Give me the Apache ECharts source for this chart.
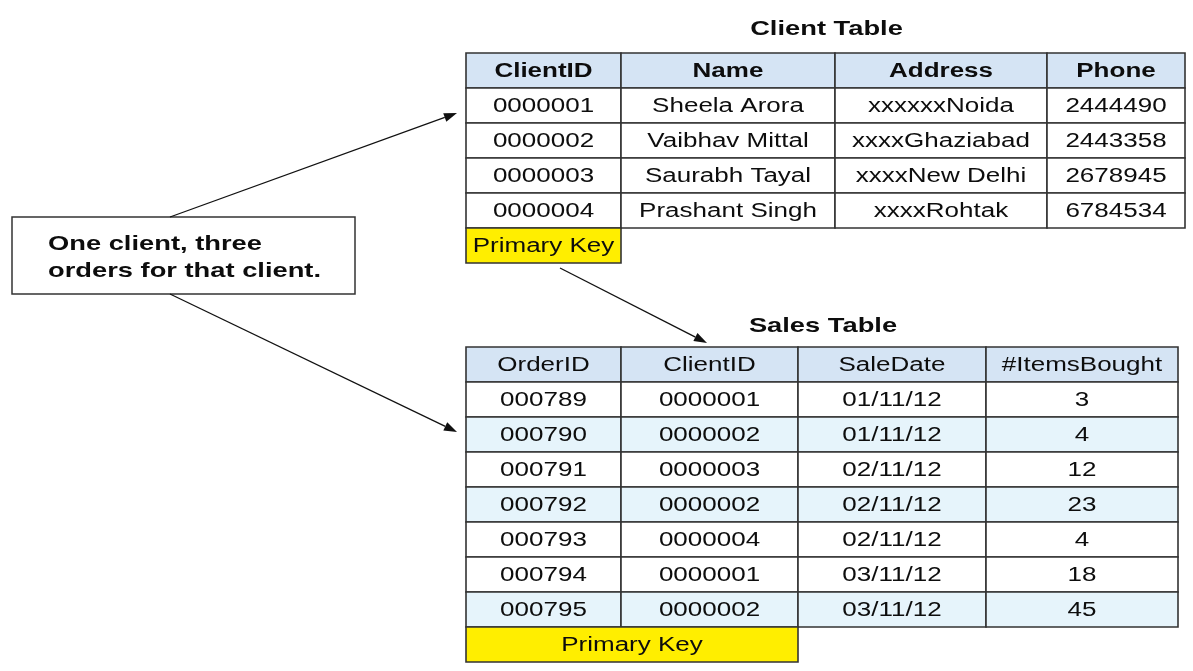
<!DOCTYPE html>
<html><head><meta charset="utf-8">
<script src="https://cdn.jsdelivr.net/npm/echarts@6/dist/echarts.min.js"></script>
<style>html,body{margin:0;padding:0;background:#fff}#c{width:1193px;height:671px}</style>
</head><body><div id="c"></div>
<script>
// ---------- data ----------
const clientTitle = 'Client Table';
const clientColumns = ['ClientID', 'Name', 'Address', 'Phone'];
const clientIds = ['0000001', '0000002', '0000003', '0000004'];
const clientNames = ['Sheela Arora', 'Vaibhav Mittal', 'Saurabh Tayal', 'Prashant Singh'];
const clientAddresses = ['xxxxxxNoida', 'xxxxGhaziabad', 'xxxxNew Delhi', 'xxxxRohtak'];
const clientPhones = ['2444490', '2443358', '2678945', '6784534'];

const salesTitle = 'Sales Table';
const salesColumns = ['OrderID', 'ClientID', 'SaleDate', '#ItemsBought'];
const orderIds = ['000789', '000790', '000791', '000792', '000793', '000794', '000795'];
const salesClientIds = ['0000001', '0000002', '0000003', '0000002', '0000004', '0000001', '0000002'];
const saleDates = ['01/11/12', '01/11/12', '02/11/12', '02/11/12', '02/11/12', '03/11/12', '03/11/12'];
const itemsBought = [3, 4, 12, 23, 4, 18, 45];

const keyLabel = 'Primary Key';
const noteLines = ['One client, three', 'orders for that client.'];

// ---------- layout / style ----------
const FONT = '"Liberation Sans", Arial, sans-serif';
const SX = 1.3;             // horizontal stretch of the source image
const FS = 20;
const BORDER = '#333';
const HEAD_FILL = '#d5e4f4';
const ALT_FILL = '#e6f4fb';
const KEY_FILL = '#ffee00';
const ROW_H = 35;
const clientLayout = { x: 466, y: 53, widths: [155, 214, 212, 138], titleY: 29, headBold: true, shade: [0, 0, 0, 0] };
const salesLayout = { x: 466, y: 347, widths: [155, 177, 188, 192], titleY: 326, headBold: false, shade: [0, 1, 0, 1, 0, 0, 1] };

const els = [];
function txt(x, y, s, bold, align, size) {
  els.push({
    type: 'text', x: x, y: y, scaleX: SX, z: 10,
    style: { text: String(s), fill: '#0d0d0d', font: (bold ? 'bold ' : '') + (size || FS) + 'px ' + FONT,
      textAlign: align || 'center', textVerticalAlign: 'middle' }
  });
}
function cell(x, y, w, h, fill) {
  els.push({ type: 'rect', z: 2, shape: { x: x, y: y, width: w, height: h },
    style: { fill: fill, stroke: BORDER, lineWidth: 1.6 } });
}
function table(L, title, header, cols) {
  const total = L.widths.reduce((a, b) => a + b, 0);
  txt(L.x + total / 2 + 1, L.titleY, title, true, 'center', 21);
  let x = L.x;
  header.forEach((hd, c) => {
    cell(x, L.y, L.widths[c], ROW_H, HEAD_FILL);
    txt(x + L.widths[c] / 2, L.y + ROW_H / 2 + 1, hd, L.headBold);
    x += L.widths[c];
  });
  const nRows = cols[0].length;
  for (let r = 0; r < nRows; r++) {
    const y = L.y + ROW_H * (r + 1);
    let cx = L.x;
    cols.forEach((col, c) => {
      cell(cx, y, L.widths[c], ROW_H, L.shade[r] ? ALT_FILL : '#fff');
      txt(cx + L.widths[c] / 2, y + ROW_H / 2 + 1, col[r], false);
      cx += L.widths[c];
    });
  }
  return L.y + ROW_H * (nRows + 1);
}
function arrow(x1, y1, x2, y2) {
  const a = Math.atan2(y2 - y1, x2 - x1);
  const len = 13, half = 4.5;
  const bx = x2 - len * Math.cos(a), by = y2 - len * Math.sin(a);
  els.push({ type: 'line', z: 5, shape: { x1: x1, y1: y1, x2: bx, y2: by },
    style: { stroke: '#111', lineWidth: 1.3 } });
  els.push({ type: 'polygon', z: 5, shape: { points: [
    [x2, y2],
    [bx + half * Math.sin(a), by - half * Math.cos(a)],
    [bx - half * Math.sin(a), by + half * Math.cos(a)]
  ] }, style: { fill: '#111' } });
}

const clientBottom = table(clientLayout, clientTitle, clientColumns, [clientIds, clientNames, clientAddresses, clientPhones]);
cell(clientLayout.x, clientBottom, clientLayout.widths[0], ROW_H, KEY_FILL);
txt(clientLayout.x + clientLayout.widths[0] / 2, clientBottom + ROW_H / 2 + 1, keyLabel, false);

const salesBottom = table(salesLayout, salesTitle, salesColumns, [orderIds, salesClientIds, saleDates, itemsBought]);
const skw = salesLayout.widths[0] + salesLayout.widths[1];
cell(salesLayout.x, salesBottom, skw, ROW_H, KEY_FILL);
txt(salesLayout.x + skw / 2, salesBottom + ROW_H / 2 + 1, keyLabel, false);

// note box
els.push({ type: 'rect', z: 2, shape: { x: 12, y: 217, width: 343, height: 77 },
  style: { fill: '#fff', stroke: BORDER, lineWidth: 1.5 } });
txt(48, 244, noteLines[0], true, 'left', 21);
txt(48, 271, noteLines[1], true, 'left', 21);

arrow(170, 217, 457, 113);
arrow(170, 294, 457, 432);
arrow(560, 268, 707, 343);

const chart = echarts.init(document.getElementById('c'), null, { renderer: 'canvas' });
chart.setOption({ backgroundColor: '#fff', animation: false, graphic: { elements: els } });
</script>
</body></html>
